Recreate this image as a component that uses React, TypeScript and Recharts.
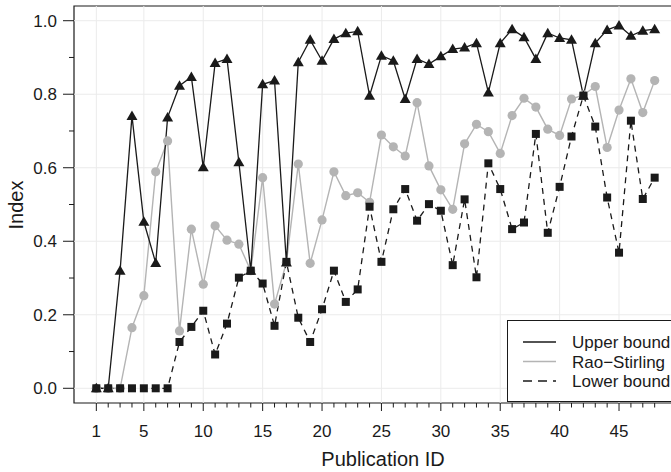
import React from "react";
import { LineChart, Line, XAxis, YAxis, ReferenceLine, ReferenceArea } from "recharts";

const pubIds = [
  1, 2, 3, 4, 5, 6, 7, 8, 9, 10, 11, 12, 13, 14, 15, 16, 17, 18, 19, 20, 21, 22, 23, 24,
  25, 26, 27, 28, 29, 30, 31, 32, 33, 34, 35, 36, 37, 38, 39, 40, 41, 42, 43, 44, 45, 46, 47, 48,
];

const upperBound = [
  0, 0, 0.32, 0.741, 0.453, 0.341, 0.737, 0.823, 0.847, 0.601, 0.885, 0.896, 0.615, 0.32,
  0.827, 0.837, 0.342, 0.887, 0.948, 0.891, 0.95, 0.966, 0.971, 0.796, 0.905, 0.891, 0.787,
  0.896, 0.882, 0.903, 0.923, 0.927, 0.939, 0.805, 0.939, 0.977, 0.955, 0.896, 0.966, 0.953,
  0.948, 0.796, 0.939, 0.975, 0.987, 0.959, 0.973, 0.977,
];

const raoStirling = [
  0, 0, 0, 0.165, 0.252, 0.589, 0.673, 0.156, 0.433, 0.283, 0.442, 0.403, 0.392, 0.32, 0.573,
  0.229, 0.342, 0.61, 0.34, 0.458, 0.589, 0.524, 0.532, 0.506, 0.689, 0.657, 0.632, 0.777,
  0.605, 0.54, 0.487, 0.665, 0.718, 0.698, 0.639, 0.742, 0.789, 0.765, 0.705, 0.688, 0.787,
  0.798, 0.821, 0.655, 0.757, 0.842, 0.75, 0.837,
];

const lowerBound = [
  0, 0, 0, 0, 0, 0, 0, 0.126, 0.167, 0.211, 0.092, 0.176, 0.301, 0.32, 0.285, 0.17, 0.344,
  0.192, 0.126, 0.215, 0.32, 0.235, 0.269, 0.494, 0.344, 0.487, 0.542, 0.456, 0.501, 0.483,
  0.335, 0.514, 0.302, 0.612, 0.542, 0.433, 0.451, 0.692, 0.423, 0.548, 0.685, 0.796, 0.712,
  0.519, 0.369, 0.728, 0.515, 0.573,
];

const xLabelTicks = [1, 5, 10, 15, 20, 25, 30, 35, 40, 45];
const yAllTicks = [0, 0.1, 0.2, 0.3, 0.4, 0.5, 0.6, 0.7, 0.8, 0.9, 1.0];
const yLabelTicks = [0, 0.2, 0.4, 0.6, 0.8, 1.0];
const seriesNames = ["Upper bound", "Rao\u2212Stirling", "Lower bound"];

const data = pubIds.map((id, i) => ({
  id,
  upper: upperBound[i],
  rao: raoStirling[i],
  lower: lowerBound[i],
}));

const FONT = "'Liberation Sans', Arial, Helvetica, sans-serif";
const INK = "#1a1a1a";
const GREY = "#b4b4b4";
const GRID = "#ebebeb";

const XTick = (props: any) => {
  const { x, y, payload } = props;
  const major = xLabelTicks.includes(payload.value);
  return (
    <g>
      <line x1={x} x2={x} y1={y} y2={y + (major ? 8 : 4.5)} stroke={INK} strokeWidth={1} />
      {major && (
        <text x={x} y={y + 34} textAnchor="middle" fontSize={17} fill={INK} fontFamily={FONT}>
          {payload.value}
        </text>
      )}
    </g>
  );
};

const YTick = (props: any) => {
  const { x, y, payload } = props;
  const major = yLabelTicks.some((t) => Math.abs(t - payload.value) < 1e-9);
  return (
    <g>
      <line x1={x - (major ? 11 : 5)} x2={x} y1={y} y2={y} stroke={INK} strokeWidth={1} />
      {major && (
        <text x={x - 17} y={y + 6} textAnchor="end" fontSize={17} fill={INK} fontFamily={FONT}>
          {payload.value.toFixed(1)}
        </text>
      )}
    </g>
  );
};

const Triangle = (props: any) => {
  const { cx, cy, index } = props;
  if (cx == null || cy == null) return <g key={`t${index}`} />;
  return (
    <path
      key={`t${index}`}
      d={`M${cx},${cy - 5.5} L${cx + 5.5},${cy + 4} L${cx - 5.5},${cy + 4} Z`}
      fill={INK}
    />
  );
};

const Square = (props: any) => {
  const { cx, cy, index } = props;
  if (cx == null || cy == null) return <g key={`s${index}`} />;
  return <rect key={`s${index}`} x={cx - 4} y={cy - 4} width={8} height={8} fill={INK} />;
};

export default function App() {
  return (
    <div
      style={{
        position: "absolute",
        left: 0,
        top: 0,
        width: 671,
        height: 472,
        overflow: "hidden",
        background: "#fff",
        fontFamily: FONT,
      }}
    >
      <LineChart
        width={680}
        height={472}
        data={data}
        margin={{ top: 6, right: 3, bottom: 0, left: 0 }}
      >
        <XAxis
          dataKey="id"
          type="number"
          domain={[-0.88, 49.88]}
          ticks={pubIds}
          interval={0}
          tick={<XTick />}
          tickLine={false}
          tickSize={0}
          tickMargin={0}
          axisLine={false}
          height={69}
          allowDataOverflow
          label={{
            content: () => (
              <text x={383} y={466} textAnchor="middle" fontSize={20} fill={INK} fontFamily={FONT}>
                Publication ID
              </text>
            ),
          }}
        />
        <YAxis
          type="number"
          domain={[-0.04, 1.04]}
          ticks={yAllTicks}
          interval={0}
          tick={<YTick />}
          tickLine={false}
          tickSize={0}
          tickMargin={0}
          axisLine={false}
          width={74}
          allowDataOverflow
          label={{
            content: () => (
              <text
                x={23}
                y={205}
                transform="rotate(-90, 23, 205)"
                textAnchor="middle"
                fontSize={20}
                fill={INK}
                fontFamily={FONT}
              >
                Index
              </text>
            ),
          }}
        />
        {xLabelTicks.map((t) => (
          <ReferenceLine key={`gx${t}`} x={t} stroke={GRID} strokeWidth={1} />
        ))}
        {yLabelTicks.map((t) => (
          <ReferenceLine key={`gy${t}`} y={t} stroke={GRID} strokeWidth={1} />
        ))}
        <ReferenceArea
          x1={-0.88}
          x2={49.88}
          y1={-0.04}
          y2={1.04}
          fill="none"
          fillOpacity={0}
          stroke={INK}
          strokeWidth={1.2}
          ifOverflow="visible"
        />
        <Line
          dataKey="rao"
          stroke={GREY}
          strokeWidth={1.4}
          dot={{ r: 4.6, fill: GREY, stroke: "none" }}
          activeDot={false}
          isAnimationActive={false}
        />
        <Line
          dataKey="upper"
          stroke={INK}
          strokeWidth={1.3}
          dot={Triangle}
          activeDot={false}
          isAnimationActive={false}
        />
        <Line
          dataKey="lower"
          stroke={INK}
          strokeWidth={1.3}
          strokeDasharray="6 5"
          dot={Square}
          activeDot={false}
          isAnimationActive={false}
        />
      </LineChart>
      <div
        style={{
          position: "absolute",
          left: 507,
          top: 320,
          width: 200,
          height: 82,
          border: `1px solid ${INK}`,
          background: "#fff",
          boxSizing: "border-box",
        }}
      >
        <svg width={200} height={82}>
          {seriesNames.map((name, i) => (
            <g key={name}>
              <line
                x1={15}
                x2={48}
                y1={21 + i * 19.5}
                y2={21 + i * 19.5}
                stroke={i === 1 ? GREY : INK}
                strokeWidth={1.4}
                strokeDasharray={i === 2 ? "9 6" : undefined}
              />
              <text x={64} y={27 + i * 19.5} fontSize={17} fill={INK} fontFamily={FONT}>
                {name}
              </text>
            </g>
          ))}
        </svg>
      </div>
    </div>
  );
}
